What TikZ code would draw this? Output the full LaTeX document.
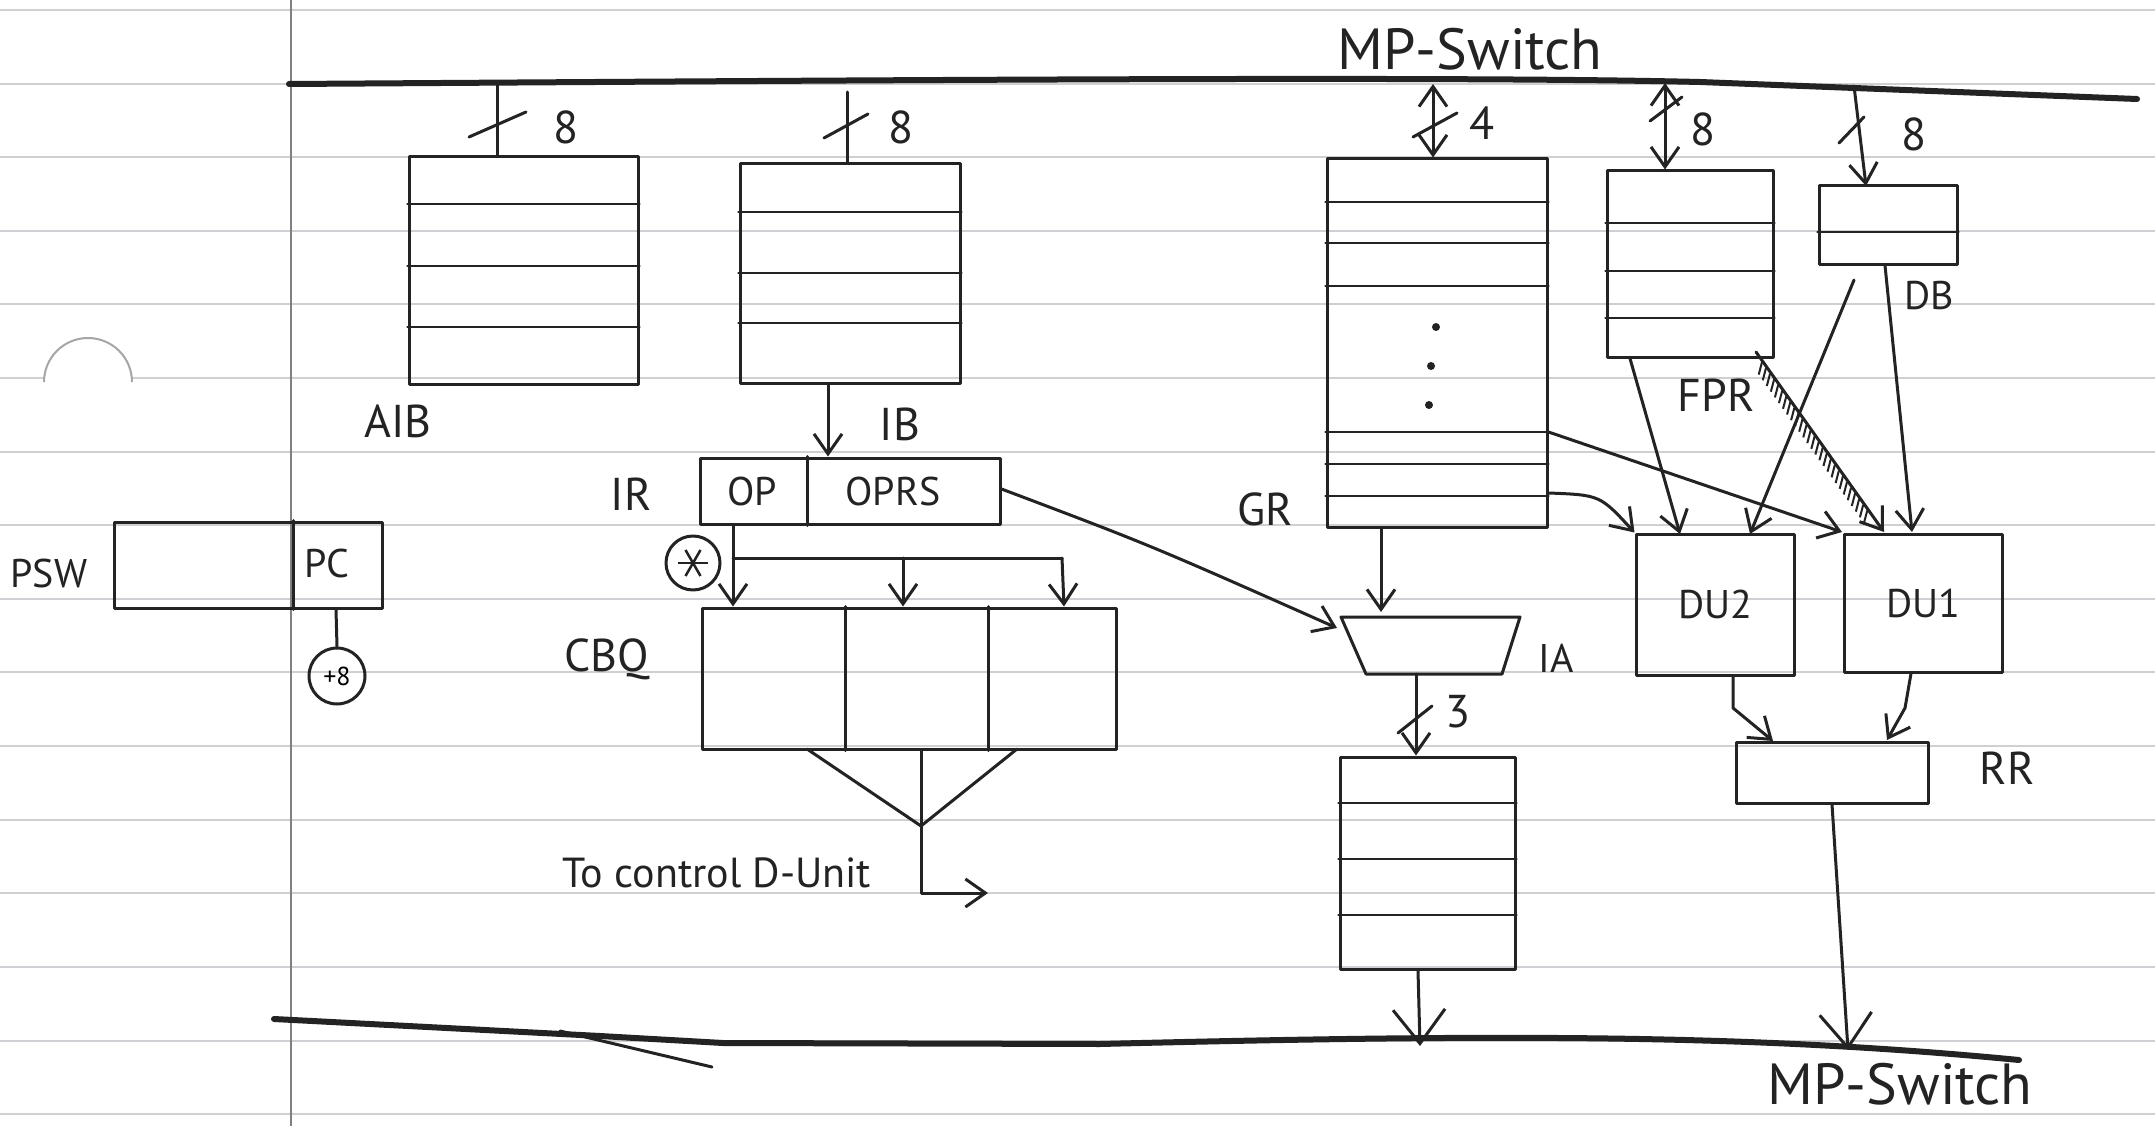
\documentclass[tikz,border=0pt]{standalone}
\usepackage{fontspec}
\setmainfont{PT Sans}
\usetikzlibrary{arrows.meta,decorations.pathreplacing,calc}
\definecolor{ruled}{RGB}{208,208,212}
\definecolor{inkc}{RGB}{35,35,35}
\begin{document}
\begin{tikzpicture}[x=1pt,y=-1pt,
  ink/.style={line width=3pt, draw=inkc, line cap=round, line join=round},
  box/.style={ink, rectangle, inner sep=0pt},
  row/.style={line width=2.6pt, draw=inkc, line cap=round},
  lbl/.style={font=\fontsize{46}{50}\selectfont, inner sep=0pt, text=inkc},
  sml/.style={font=\fontsize{40}{44}\selectfont, inner sep=0pt, text=inkc},
  big/.style={font=\fontsize{58}{62}\selectfont, inner sep=0pt, text=inkc, anchor=base},
  tip/.style={-{Straight Barb[length=20pt,width=28pt]}},
  arr/.style={ink, tip},
  darr/.style={ink, {Straight Barb[length=20pt,width=28pt]}-{Straight Barb[length=20pt,width=28pt]}},
  bigarr/.style={ink, -{Straight Barb[length=34pt,width=52pt]}},
  bus/.style={line width=6pt, draw=inkc, line cap=round, line join=round},
  rule/.style={line width=2.5pt, draw=ruled},
]
\fill[white] (0,0) rectangle (2155,1126);
\useasboundingbox (0,0) rectangle (2155,1126);
% ruled paper
\foreach \yy in {10,84,157,231,304,378,452,525,599,672,746,820,893,967,1041,1114}
  \draw[rule] (0,\yy) -- (2155,\yy);
\fill[white] (88,382) circle (44pt);
\draw[black!35, line width=2pt] (44,382) arc (180:0:44pt);
\draw[line width=2pt, draw=black!50] (291,0) -- (291,1126);

% buses
\draw[bus] (289,84) .. controls (900,80) and (1450,76) .. (1700,82) -- (2137,99);
\draw[bus] (274,1019) -- (600,1036) -- (723,1043) -- (1100,1044) .. controls (1500,1034) and (1750,1034) .. (2019,1060);
\draw[ink] (560,1031) -- (712,1067);
\node[big] (mptop) at (1470,70) {MP-Switch};
\node[big] (mpbot) at (1900,1104) {MP-Switch};
\coordinate (baib) at (497,84);
\coordinate (bib) at (847,92);
\coordinate (bgr) at (1433,84);
\coordinate (bfpr) at (1665,83);
\coordinate (bdb) at (1854,86);
\coordinate (bbq) at (1420,1046);
\coordinate (bbrr) at (1848,1050);

% AIB
\node[box, minimum width=229pt, minimum height=227pt] (aib) at (523.5,270.5) {};
\foreach \yy in {204,266,327} \draw[row] (aib.west |- 0,\yy) -- (aib.east |- 0,\yy);
\node[lbl] (aiblbl) at (398,421) {AIB};
\draw[ink] (baib) -- (aib.north -| baib);
\draw[ink] (469,137) -- (526,112);
\node[lbl] (aibw) at (566,127) {8};

% IB
\node[box, minimum width=220pt, minimum height=219pt] (ib) at (850,273.5) {};
\foreach \yy in {212,273,323} \draw[row] (ib.west |- 0,\yy) -- (ib.east |- 0,\yy);
\draw[ink] (bib) -- (ib.north -| bib);
\draw[ink] (824,138) -- (868,114);
\node[lbl] (ibw) at (901,127) {8};

% IR
\node[box, minimum width=300pt, minimum height=66pt] (ir) at (850,491) {};
\draw[ink] (ir.north -| 807,0) -- (ir.south -| 807,0);
\node[sml] (op) at (752,491) {OP};
\node[sml] (oprs) at (893,491) {OPRS};
\node[lbl] (irlbl) at (631,494) {IR};
\draw[arr] (ib.south -| 828,0) -- (ir.north -| 828,0);
\node[lbl] (iblbl) at (900,424) {IB};

% PSW
\node[box, minimum width=268pt, minimum height=86pt] (psw) at (248,565) {};
\draw[ink] (psw.north -| 293,0) -- (psw.south -| 293,0);
\node[sml] (pc) at (327,563) {PC};
\node[sml] (pswlbl) at (49,573) {PSW};
\node[box, circle, minimum size=56pt, font=\fontsize{26}{28}\selectfont] (inc) at (337,676) {+8};
\draw[ink] (psw.south -| 336,0) -- (inc.north);

% star and CBQ
\node[box, circle, minimum size=54pt] (star) at (693,563) {};
\foreach \a in {0,60,120}
  \draw[line width=2.5pt, draw=inkc] ($(star.center)+(\a:15pt)$) -- ($(star.center)+(\a+180:15pt)$);
\node[box, minimum width=414pt, minimum height=141pt] (cbq) at (909,678.5) {};
\draw[ink] (cbq.north -| 845,0) -- (cbq.south -| 845,0);
\draw[ink] (cbq.north -| 988,0) -- (cbq.south -| 988,0);
\node[lbl] (cbqlbl) at (607,659) {CBQ};
\coordinate (fork) at (1062,558);
\draw[arr] (ir.south -| 733,0) -- (cbq.north -| 733,0);
\draw[ink] (733,558) -- (fork);
\draw[arr] (903,558) -- (cbq.north -| 903,0);
\draw[arr] (fork) -- (cbq.north -| 1064,0);
\coordinate (fl) at (807,749);
\coordinate (fr) at (1017,749);
\coordinate (apex) at (921,826);
\coordinate (ctrl) at (988,893);
\draw[ink] (fl) -- (apex) -- (fr);
\draw[ink] (cbq.south -| apex) -- (apex);
\draw[arr] (apex) -- (apex |- ctrl) -- (ctrl);
\node[font=\fontsize{42}{46}\selectfont, inner sep=0pt, text=inkc] (ctrllbl) at (717,873) {To control D-Unit};

% GR
\node[box, minimum width=220pt, minimum height=368pt] (gr) at (1437,343) {};
\foreach \yy in {202,243,286,432,464,496} \draw[row] (gr.west |- 0,\yy) -- (gr.east |- 0,\yy);
\foreach \p in {(1436,327),(1431,366),(1429,405)} \fill[inkc] \p circle (4pt);
\draw[darr] (bgr) -- (gr.north -| bgr);
\draw[ink] (1413,137) -- (1457,113);
\node[lbl] (grw) at (1482,123) {4};
\node[lbl] (grlbl) at (1265,509) {GR};

% FPR
\node[box, minimum width=166pt, minimum height=186pt] (fpr) at (1690,264) {};
\foreach \yy in {223,271,318} \draw[row] (fpr.west |- 0,\yy) -- (fpr.east |- 0,\yy);
\draw[darr] (bfpr) -- (fpr.north -| bfpr);
\draw[ink] (1650,121) -- (1682,97);
\node[lbl] (fprw) at (1703,129) {8};
\node[lbl] (fprlbl) at (1716,395) {FPR};

% DB
\node[box, minimum width=138pt, minimum height=78pt] (db) at (1888,225) {};
\draw[row] (db.west |- 0,232) -- (db.east |- 0,232);
\draw[arr] (bdb) -- (1866,186);
\draw[ink] (1839,143) -- (1864,117);
\node[lbl] (dbw) at (1914,134) {8};
\node[sml] (dblbl) at (1929,296) {DB};

% DU2, DU1
\node[box, minimum width=158pt, minimum height=141pt] (du2) at (1715,604.5) {};
\node[sml] at (du2.center) {DU2};
\node[box, minimum width=158pt, minimum height=138pt] (du1) at (1923,603) {};
\node[sml] at (du1.center) {DU1};
\draw[arr] (gr.east |- 0,493) .. controls (1600,495) .. (du2.north west);
\draw[arr] (gr.east |- 0,432) -- (1842,532);
\draw[arr] (fpr.south -| 1630,0) -- (1680,534);
\draw[arr] (1854,280) -- (1750,534);
\draw[arr] (1756,352) -- (1884,532);
\draw[line width=2pt, draw=inkc, decorate, decoration={border, segment length=7pt, amplitude=13pt, angle=-50}] (1762,362) -- (1874,520);
\draw[arr] (db.south -| 1885,0) -- (1912,532);

% IA
\coordinate (iatl) at (1341,617);
\coordinate (iatr) at (1520,617);
\coordinate (iabr) at (1502,674);
\coordinate (iabl) at (1366,674);
\draw[ink] (iatl) -- (iatr) -- (iabr) -- (iabl) -- cycle;
\node[sml] (ialbl) at (1556,658) {IA};
\draw[arr] (gr.south -| 1381,0) -- (1381,612);
\draw[arr] (ir.east |- 0,489) .. controls (1150,545) .. (1337,628);

% queue
\node[box, minimum width=175pt, minimum height=212pt] (q) at (1427.5,863) {};
\foreach \yy in {803,859,915} \draw[row] (q.west |- 0,\yy) -- (q.east |- 0,\yy);
\draw[arr] (1416,674) -- (q.north -| 1416,0);
\draw[ink] (1398,733) -- (1432,706);
\node[lbl] (qw) at (1458,712) {3};
\draw[bigarr] (q.south -| 1418,0) -- (bbq);

% RR
\node[box, minimum width=192pt, minimum height=61pt] (rr) at (1832,772.5) {};
\node[lbl] (rrlbl) at (2007,768) {RR};
\draw[arr] (du2.south -| 1733,0) -- (1733,708) -- (1773,741);
\draw[arr] (du1.south -| 1911,0) -- (1905,708) -- (1887,740);
\draw[bigarr] (rr.south) -- (bbrr);
\end{tikzpicture}
\end{document}
